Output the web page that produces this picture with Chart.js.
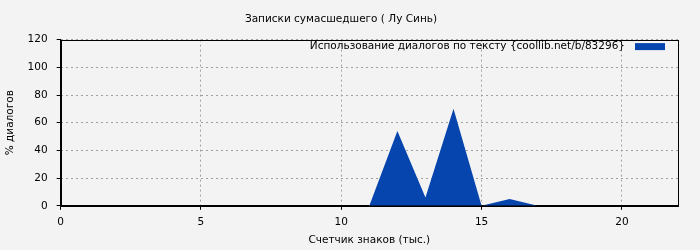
<!DOCTYPE html>
<html><head><meta charset="utf-8">
<script src="https://cdn.jsdelivr.net/npm/chart.js@4/dist/chart.umd.min.js"></script>
<style>html,body{margin:0;padding:0;background:#f3f3f3;}#wrap{width:700px;height:250px;}</style>
</head><body><div id="wrap"><canvas id="c" width="700" height="250"></canvas></div>
<script>
const chartTitle = "Записки сумасшедшего ( Лу Синь)";
const seriesLabel = "Использование диалогов по тексту {coollib.net/b/83296}";
const xAxisTitle = "Счетчик знаков (тыс.)";
const yAxisTitle = "% диалогов";
const xValues = [0, 11, 12, 13, 14, 15, 16, 17, 22];
const yValues = [0, 0, 54, 6, 70, 0, 5, 0, 0];
const xTicks = [0, 5, 10, 15, 20];
const yTicks = [0, 20, 40, 60, 80, 100, 120];

const FONT = "DejaVu Sans";
const FS = 10.5;
const BLUE = "#0645ad";

const frame = {
  id: 'frame',
  beforeDraw(chart) {
    const ctx = chart.ctx;
    ctx.save();
    ctx.fillStyle = '#f3f3f3';
    ctx.fillRect(0, 0, chart.width, chart.height);
    ctx.restore();
  },
  afterDraw(chart) {
    const {ctx, chartArea: a} = chart;
    ctx.save();
    ctx.strokeStyle = '#000';
    ctx.lineWidth = 1;
    ctx.setLineDash([]);
    ctx.strokeRect(Math.round(a.left) + 0.5, Math.round(a.top) + 0.5, Math.round(a.right - a.left), Math.round(a.bottom - a.top));
    ctx.font = FS + "px '" + FONT + "'";
    ctx.textBaseline = 'middle';
    ctx.textAlign = 'right';
    const label = chart.data.datasets[0].label;
    const boxW = 30, boxH = 7;
    const boxRight = a.right - 13;
    const yMid = a.top + 7;
    ctx.fillStyle = chart.data.datasets[0].backgroundColor;
    ctx.fillRect(boxRight - boxW, yMid - boxH / 2, boxW, boxH);
    ctx.fillStyle = '#000';
    ctx.fillText(label, boxRight - boxW - 10, yMid);
    ctx.restore();
  }
};

new Chart(document.getElementById('c'), {
  type: 'line',
  data: {
    datasets: [{
      label: seriesLabel,
      data: xValues.map((x, i) => ({x: x, y: yValues[i]})),
      backgroundColor: BLUE,
      borderColor: BLUE,
      borderWidth: 0,
      pointRadius: 0,
      fill: 'origin',
      tension: 0
    }]
  },
  options: {
    responsive: false,
    animation: false,
    devicePixelRatio: 1,
    layout: {padding: {left: 4, right: 22, top: 0, bottom: 3}},
    plugins: {
      legend: {display: false},
      tooltip: {enabled: false},
      title: {
        display: true, text: chartTitle, color: '#000',
        font: {family: FONT, size: FS, weight: 'normal'},
        padding: {top: 13, bottom: 14}
      }
    },
    scales: {
      x: {
        type: 'linear', min: 0, max: 22,
        afterBuildTicks: s => { s.ticks = xTicks.map(v => ({value: v})); },
        ticks: {color: '#000', font: {family: FONT, size: FS}, padding: 6, includeBounds: false},
        grid: {color: '#a0a0a0', tickColor: '#000', tickLength: 4, tickBorderDash: []},
        border: {display: true, color: '#000', dash: [2, 3]},
        title: {display: true, text: xAxisTitle, color: '#000', font: {family: FONT, size: FS}, padding: {top: 0, bottom: 0}}
      },
      y: {
        min: 0, max: 120,
        afterBuildTicks: s => { s.ticks = yTicks.map(v => ({value: v})); },
        ticks: {color: '#000', font: {family: FONT, size: FS}, padding: 9},
        grid: {color: '#a0a0a0', tickColor: '#000', tickLength: 4, tickBorderDash: []},
        border: {display: true, color: '#000', dash: [2, 3]},
        title: {display: true, text: yAxisTitle, color: '#000', font: {family: FONT, size: FS}, padding: {top: 0, bottom: 2}}
      }
    }
  },
  plugins: [frame]
});
</script></body></html>
